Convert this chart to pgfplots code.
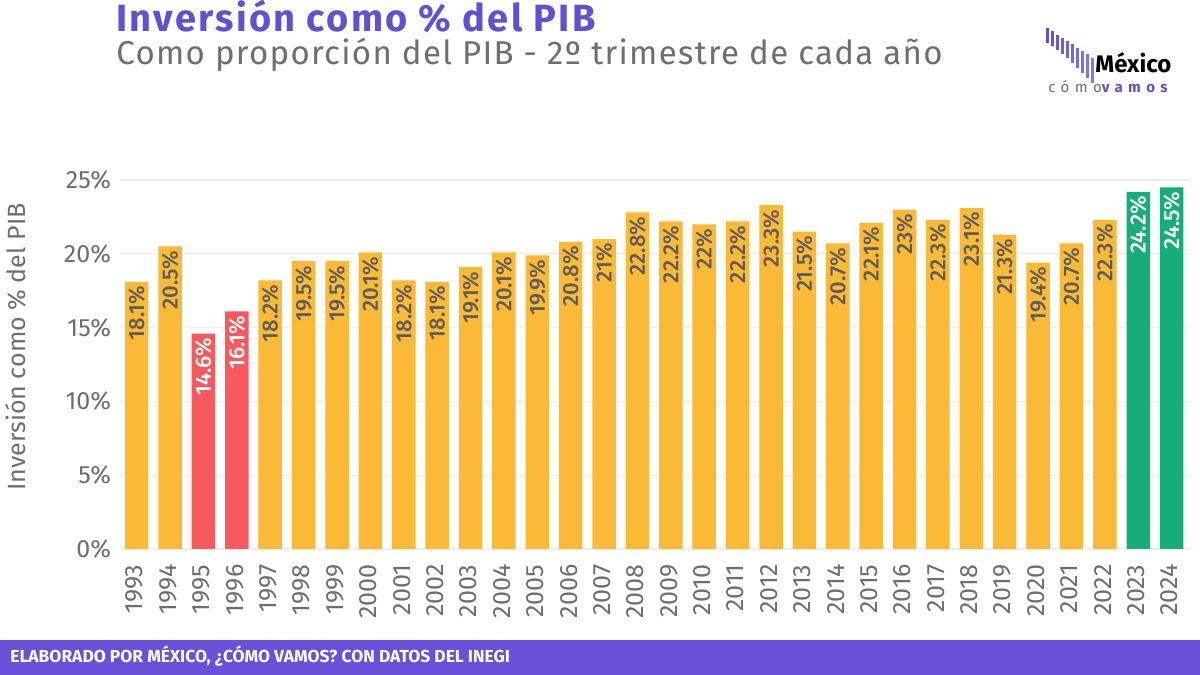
\documentclass[border=0pt]{standalone}
\usepackage{pgfplots}
\pgfplotsset{compat=1.18}
\usepackage{fontspec}
\setmainfont{Fira Sans}
\newfontfamily\medfont{Fira Sans Medium}

\definecolor{barorange}{HTML}{FBB938}
\definecolor{barred}{HTML}{F65A5F}
\definecolor{bargreen}{HTML}{17AD7B}
\definecolor{titlepurple}{HTML}{6250D2}
\definecolor{bandpurple}{HTML}{6A4FD8}
\definecolor{logolight}{HTML}{8585E8}
\definecolor{txtgray}{HTML}{6E6E6E}
\definecolor{lblgray}{HTML}{5C5C5C}
\definecolor{gridgray}{HTML}{EDEDED}

\pgfplotstableread{
x y
0 18.1
1 20.5
4 18.2
5 19.5
6 19.5
7 20.1
8 18.2
9 18.1
10 19.1
11 20.1
12 19.9
13 20.8
14 21
15 22.8
16 22.2
17 22
18 22.2
19 23.3
20 21.5
21 20.7
22 22.1
23 23
24 22.3
25 23.1
26 21.3
27 19.4
28 20.7
29 22.3
}\orangedata
\pgfplotstableread{
x y
2 14.6
3 16.1
}\reddata
\pgfplotstableread{
x y
30 24.2
31 24.5
}\greendata

\begin{document}
\begin{tikzpicture}
% canvas, 1 px = 0.5pt, y measured from the bottom
\begin{scope}[x=0.5pt,y=0.5pt]
\fill[white] (0,0) rectangle (1200,675);
\fill[bandpurple] (0,0) rectangle (1200,35);
\node[anchor=base west,text=white,font=\fontsize{8.7}{10}\selectfont\bfseries,inner sep=0]
  at (10,12) {ELABORADO POR MÉXICO, ¿CÓMO VAMOS? CON DATOS DEL INEGI};
\node[anchor=base west,text=titlepurple,font=\fontsize{19}{21}\selectfont\bfseries\addfontfeatures{LetterSpace=6},inner sep=0]
  at (116,643) {Inversión como \% del PIB};
\node[anchor=base west,text=txtgray,font=\fontsize{16.5}{18}\selectfont\addfontfeatures{LetterSpace=4},inner sep=0]
  at (116,610) {Como proporción del PIB - 2º trimestre de cada año};
\node[rotate=90,text=txtgray,font=\fontsize{12.5}{14}\selectfont,inner sep=0]
  at (16,328) {Inversión como \% del PIB};
% logo
\foreach \i in {0,...,9}{
  \pgfmathsetmacro{\xx}{1047+5*\i}
  \pgfmathsetmacro{\tp}{675-28-3.3*\i}
  \pgfmathsetmacro{\bt}{675-43-3.3*\i-0.4*\i*\i/3}
  \pgfmathsetmacro{\mx}{100-9*\i}
  \draw[line width=1.5pt,color=titlepurple!\mx!logolight] (\xx,\tp) -- (\xx,\bt);
}
\node[anchor=base west,font=\fontsize{12}{13}\selectfont\bfseries,inner sep=0] at (1095,602) {México};
\node[anchor=base west,font=\fontsize{7.5}{9}\selectfont,inner sep=0] at (1048,582)
  {\addfontfeatures{LetterSpace=36}\textcolor{txtgray}{cómo}\textcolor{titlepurple}{\bfseries vamos}};
\end{scope}

\begin{axis}[
    at={(60pt,63pt)}, anchor=south west,
    scale only axis,
    width=535pt, height=184.5pt,
    ymin=0, ymax=25,
    xmin=-0.5, xmax=31.55,
    axis line style={draw=none},
    major tick style={draw=none},
    ymajorgrids,
    grid style={gridgray, line width=0.6pt},
    ytick={0,5,...,25},
    yticklabel={\pgfmathprintnumber{\tick}\%},
    yticklabel style={text=txtgray, font=\fontsize{12.5}{14}\selectfont, xshift=-1pt},
    xtick={0,...,31},
    xticklabel={\pgfmathparse{int(\tick+1993)}\pgfmathresult},
    xticklabel style={rotate=90, anchor=east, text=txtgray, font=\fontsize{12.5}{14}\selectfont, yshift=1pt},
    /pgf/number format/assume math mode=true,
    ybar, bar width=11.75pt, bar shift=0pt,
    nodes near coords={\pgfmathprintnumber{\pgfplotspointmeta}\%},
    every node near coord/.append style={rotate=90, anchor=east, font=\fontsize{11}{12}\selectfont\medfont, inner sep=2pt},
    clip=false,
]
\addplot[fill=barorange, draw=none, bar shift=0pt, nodes near coords style={text=lblgray}] table[x=x,y=y] {\orangedata};
\addplot[fill=barred, draw=none, bar shift=0pt, nodes near coords style={text=white}] table[x=x,y=y] {\reddata};
\addplot[fill=bargreen, draw=none, bar shift=0pt, nodes near coords style={text=white}] table[x=x,y=y] {\greendata};
\end{axis}
\end{tikzpicture}
\end{document}
